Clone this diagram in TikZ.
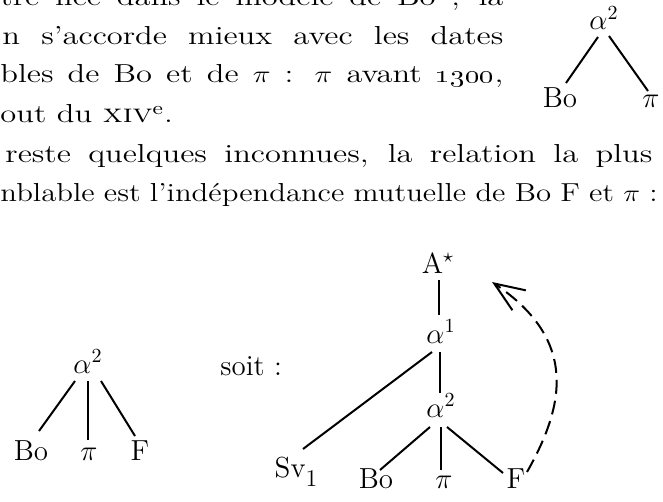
\documentclass[tikz,border=0pt]{standalone}
\usepackage{amsmath,amssymb}
\usepackage{graphicx}
\usepackage{tikz}
\usetikzlibrary{calc,arrows.meta}
\newcommand{\jtxt}[3][1.25]{\scalebox{#1}[1]{\makebox[#2][s]{#3}}}
\newcommand{\ntxt}[1]{\scalebox{1.25}[1]{#1}}

\begin{document}
\begin{tikzpicture}[x=0.5pt,y=-0.5pt,
    txt/.style={anchor=base west,inner sep=0pt,font=\fontsize{13}{15}\selectfont},
    lab/.style={anchor=base,inner sep=0pt,font=\fontsize{14.5}{17}\selectfont},
    br/.style={line width=1pt},
    back/.style={line width=1pt,dash pattern=on 7pt off 3.5pt,-{Straight Barb[length=15pt,width=12pt]}}]
  \useasboundingbox (0,0) rectangle (663,502);
  \clip (0,0) rectangle (663,502);
  % running text
  \node[txt] (t1) at (0,6)   {\jtxt{201.2pt}{tre liée dans le modèle de Bo ; la}};
  \node[txt] (t2) at (2,45)  {\jtxt{200.4pt}{n s’accorde mieux avec les dates}};
  \node[txt] (t3) at (0,83)  {\jtxt{201.2pt}{bles de Bo et de $\pi$ : $\pi$ avant \oldstylenums{1300},}};
  \node[txt] (t4) at (0,123) {\ntxt{out du \textsc{xiv}\textsuperscript{e}.}};
  \node[txt] (t5) at (5,163) {\jtxt{258.8pt}{reste quelques inconnues, la relation la plus}};
  \node[txt] (t6) at (0,202) {\jtxt[1.18]{278.5pt}{nblable est l’indépendance mutuelle de Bo F et $\pi$ :}};
  % stemma in the margin
  \node[lab] (ma) at (604,30) {$\alpha^2$};
  \node[lab] (mb) at (560,108) {Bo};
  \node[lab] (mp) at (651,108) {$\pi$};
  \draw[br] ($(ma.base)+(-6,7)$) -- ($(mb.base)+(6,-25)$);
  \draw[br] ($(ma.base)+(5,6)$) -- ($(mp.base)+(-3,-17)$);
  % independent branches
  \node[lab] (la) at (88,373) {$\alpha^2$};
  \node[lab] (lb) at (31,460) {Bo};
  \node[lab] (lp) at (89,460) {$\pi$};
  \node[lab] (lf) at (140,460) {F};
  \draw[br] ($(la.base)+(-13,8)$) -- ($(lb.base)+(8,-29)$);
  \draw[br] ($(la.base)+(0,8)$) -- ($(lp.base)+(-1,-20)$);
  \draw[br] ($(la.base)+(13,8)$) -- ($(lf.base)+(-5,-24)$);
  \node[lab,anchor=base west] (soit) at (220,375) {soit :};
  % full stemma with contamination of F
  \node[lab] (ra) at (438,273) {A$^\star$};
  \node[lab] (r1) at (441,343) {$\alpha^1$};
  \node[lab] (r2) at (441,417) {$\alpha^2$};
  \node[lab] (rs) at (296,477) {Sv\raisebox{-4.5pt}{\fontsize{12}{14}\selectfont 1}};
  \node[lab] (rb) at (376,488) {Bo};
  \node[lab] (rp) at (444,488) {$\pi$};
  \node[lab] (rf) at (516,488) {F};
  \draw[br] ($(ra.base)+(1,7)$) -- ($(r1.base)+(-2,-28)$);
  \draw[br] ($(r1.base)+(-1,9)$) -- ($(r2.base)+(-1,-24)$);
  \draw[br] ($(r1.base)+(-9,9)$) -- ($(rs.base)+(7,-28)$);
  \draw[br] ($(r2.base)+(-11,10)$) -- ($(rb.base)+(4,-18)$);
  \draw[br] ($(r2.base)+(0,10)$) -- ($(rp.base)+(-3,-18)$);
  \draw[br] ($(r2.base)+(6,10)$) -- ($(rf.base)+(-13,-15)$);
  \draw[back] ($(rf.base)+(11,-16)$) .. controls (565,405) and (578,340) .. ($(ra.base)+(54,9)$);
\end{tikzpicture}
\end{document}
